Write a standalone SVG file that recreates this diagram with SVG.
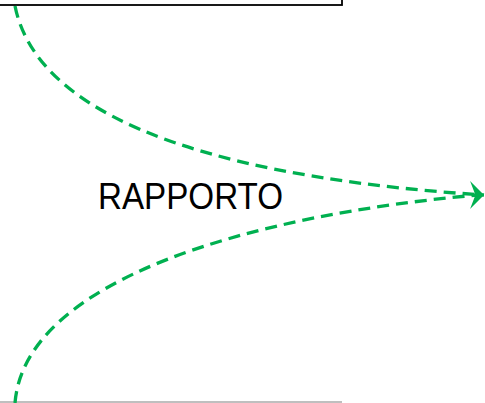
<svg xmlns="http://www.w3.org/2000/svg" width="485" height="403" viewBox="0 0 485 403">
<style>
.flow{fill:none;stroke:#00B050;stroke-width:3.3;stroke-dasharray:12 7}
.lbl{font-family:"Liberation Sans",Arial,sans-serif;font-size:36px;fill:#000}
</style>
<defs>
<marker id="arr" markerUnits="userSpaceOnUse" markerWidth="16" markerHeight="30" viewBox="0 -14 14 28" refX="13" refY="0" orient="0">
<path d="M0,-13 L13,0 L0,13 L5,0 Z" fill="#00B050"/>
</marker>
</defs>
<rect width="485" height="403" fill="#fff"/>
<g id="top-box">
<rect x="-3" y="-10" width="345" height="15" fill="#fff" stroke="#000" stroke-width="1.8"/>
</g>
<g id="bottom-box">
<line x1="0" y1="402" x2="342" y2="402" stroke="#aaa" stroke-width="1.5"/>
</g>
<g id="label">
<text class="lbl" x="98" y="209" textLength="185" lengthAdjust="spacingAndGlyphs">RAPPORTO</text>
</g>
<g id="connectors">
<path class="flow" d="M15,6 C40,130 250,180 484,195" marker-end="url(#arr)"/>
<path class="flow" d="M15,403 C25,280 250,215 478,195"/>
</g>
</svg>
